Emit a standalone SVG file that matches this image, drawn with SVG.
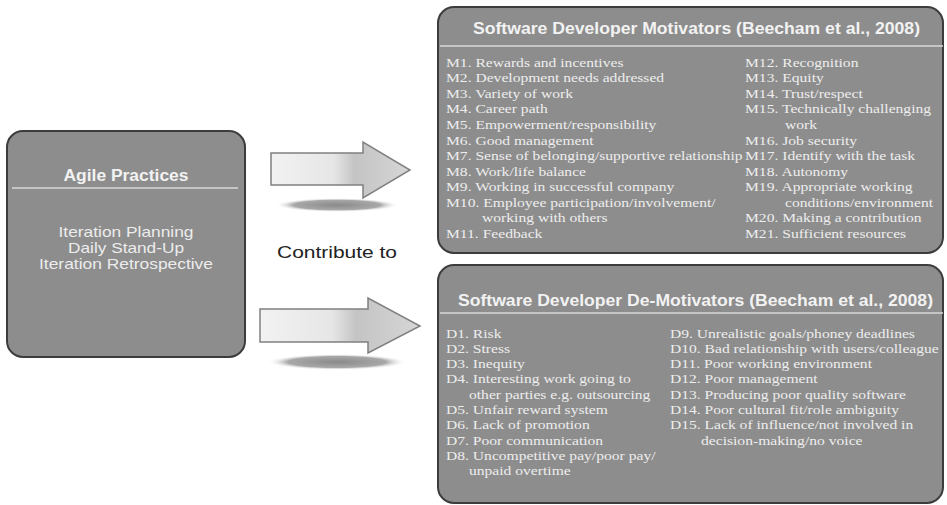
<svg xmlns="http://www.w3.org/2000/svg" width="947" height="505" viewBox="0 0 947 505">
<defs>
<linearGradient id="ag" x1="0" y1="0" x2="1" y2="0">
<stop offset="0" stop-color="#f2f2f2"/>
<stop offset="0.45" stop-color="#e6e6e6"/>
<stop offset="0.6" stop-color="#c4c4c4"/>
<stop offset="1" stop-color="#d6d6d6"/>
</linearGradient>
<radialGradient id="sh" cx="0.5" cy="0.5" r="0.5">
<stop offset="0" stop-color="#8a8a8a"/>
<stop offset="0.7" stop-color="#a8a8a8"/>
<stop offset="1" stop-color="#ffffff" stop-opacity="0"/>
</radialGradient>
</defs>
<style>
.box{fill:#8d8d8d;stroke:#3c3c3c;stroke-width:2}
.sep{stroke:#d8d8d8;stroke-width:1.5}
.h{font-family:"Liberation Sans",Arial,sans-serif;font-weight:bold;fill:#f2f2f2;font-size:16px}
.s{font-family:"Liberation Sans",Arial,sans-serif;fill:#ececec;font-size:14.5px}
.t{font-family:"Liberation Serif","Times New Roman",serif;fill:#ededed;font-size:13.5px}
.arrow{fill:url(#ag);stroke:#808080;stroke-width:1.5}
.lbl{font-family:"Liberation Sans",Arial,sans-serif;fill:#222;font-size:16.5px}
</style>
<rect width="947" height="505" fill="#ffffff"/>
<g id="agile">
<rect class="box" x="7" y="131" width="238" height="226" rx="16"/>
<text class="h" x="126" y="181" text-anchor="middle" textLength="125" lengthAdjust="spacingAndGlyphs">Agile Practices</text>
<line class="sep" x1="12" y1="188" x2="238" y2="188"/>
<text class="s" x="126" y="237" text-anchor="middle" textLength="135" lengthAdjust="spacingAndGlyphs">Iteration Planning</text>
<text class="s" x="126" y="253" text-anchor="middle" textLength="116" lengthAdjust="spacingAndGlyphs">Daily Stand-Up</text>
<text class="s" x="126" y="269" text-anchor="middle" textLength="174" lengthAdjust="spacingAndGlyphs">Iteration Retrospective</text>
</g>
<g id="motivators">
<rect class="box" x="438" y="7" width="505" height="246" rx="16"/>
<text class="h" x="473" y="34" textLength="447" lengthAdjust="spacingAndGlyphs">Software Developer Motivators (Beecham et al., 2008)</text>
<line class="sep" x1="440" y1="46" x2="943" y2="46"/>
<g class="t" transform="translate(446,0) scale(1.155,1)">
<text x="0" y="67">M1. Rewards and incentives</text>
<text x="0" y="82">M2. Development needs addressed</text>
<text x="0" y="98">M3. Variety of work</text>
<text x="0" y="113">M4. Career path</text>
<text x="0" y="129">M5. Empowerment/responsibility</text>
<text x="0" y="145">M6. Good management</text>
<text x="0" y="160">M7. Sense of belonging/supportive relationship</text>
<text x="0" y="176">M8. Work/life balance</text>
<text x="0" y="191">M9. Working in successful company</text>
<text x="0" y="207">M10. Employee participation/involvement/</text>
<text x="31.2" y="222">working with others</text>
<text x="0" y="238">M11. Feedback</text>
<text x="258.9" y="67">M12. Recognition</text>
<text x="258.9" y="82">M13. Equity</text>
<text x="258.9" y="98">M14. Trust/respect</text>
<text x="258.9" y="113">M15. Technically challenging</text>
<text x="293.5" y="129">work</text>
<text x="258.9" y="145">M16. Job security</text>
<text x="258.9" y="160">M17. Identify with the task</text>
<text x="258.9" y="176">M18. Autonomy</text>
<text x="258.9" y="191">M19. Appropriate working</text>
<text x="293.5" y="207">conditions/environment</text>
<text x="258.9" y="222">M20. Making a contribution</text>
<text x="258.9" y="238">M21. Sufficient resources</text>
</g>
</g>
<g id="demotivators">
<rect class="box" x="438" y="265" width="505" height="238" rx="16"/>
<text class="h" x="458" y="306" textLength="475" lengthAdjust="spacingAndGlyphs">Software Developer De-Motivators (Beecham et al., 2008)</text>
<line class="sep" x1="440" y1="313" x2="943" y2="313"/>
<g class="t" transform="translate(446,0) scale(1.155,1)">
<text x="0" y="338">D1. Risk</text>
<text x="0" y="353">D2. Stress</text>
<text x="0" y="368">D3. Inequity</text>
<text x="0" y="383">D4. Interesting work going to</text>
<text x="19.9" y="399">other parties e.g. outsourcing</text>
<text x="0" y="414">D5. Unfair reward system</text>
<text x="0" y="429">D6. Lack of promotion</text>
<text x="0" y="445">D7. Poor communication</text>
<text x="0" y="460">D8. Uncompetitive pay/poor pay/</text>
<text x="19.9" y="475">unpaid overtime</text>
<text x="193.9" y="338">D9. Unrealistic goals/phoney deadlines</text>
<text x="193.9" y="353">D10. Bad relationship with users/colleague</text>
<text x="193.9" y="368">D11. Poor working environment</text>
<text x="193.9" y="383">D12. Poor management</text>
<text x="193.9" y="399">D13. Producing poor quality software</text>
<text x="193.9" y="414">D14. Poor cultural fit/role ambiguity</text>
<text x="193.9" y="429">D15. Lack of influence/not involved in</text>
<text x="220.8" y="445">decision-making/no voice</text>
</g>
</g>
<g id="connectors">
<ellipse cx="337" cy="205" rx="62" ry="7" fill="url(#sh)"/>
<path class="arrow" d="M271,153 L363,153 L363,142 L410,170 L363,198 L363,185 L271,185 Z"/>
<ellipse cx="337" cy="362" rx="70" ry="8" fill="url(#sh)"/>
<path class="arrow" d="M260,309 L368,309 L368,298 L420,326 L368,353 L368,342 L260,342 Z"/>
<text class="lbl" x="277" y="258" textLength="120" lengthAdjust="spacingAndGlyphs">Contribute to</text>
</g>
</svg>
